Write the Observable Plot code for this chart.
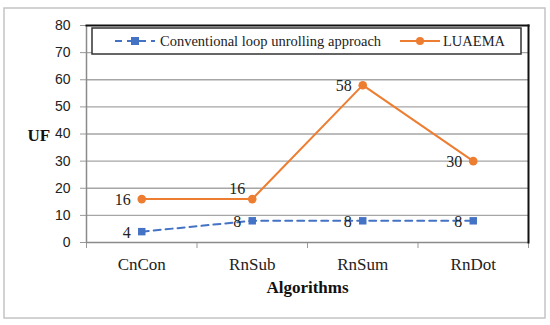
<!DOCTYPE html>
<html><head><meta charset="utf-8">
<script src="https://cdn.jsdelivr.net/npm/d3@7"></script>
<script src="https://cdn.jsdelivr.net/npm/@observablehq/plot@0.6"></script>
<style>
body{margin:0;background:#fff;}
#wrap{position:relative;width:550px;height:325px;}
</style></head><body>
<div id="wrap"></div>
<script>
const categories = ["CnCon","RnSub","RnSum","RnDot"];
const conventional = [4,8,8,8];
const luaema = [16,16,58,30];
const yTicks = [0,10,20,30,40,50,60,70,80];
const seriesNames = ["Conventional loop unrolling approach","LUAEMA"];
const blue = "#4472C4", orange = "#ED7D31";

const conv = categories.map((c,i)=>({x:i+0.5, y:conventional[i], c}));
const lua = categories.map((c,i)=>({x:i+0.5, y:luaema[i], c}));
const serif = "Liberation Serif";

const chart = Plot.plot({
  width:550, height:325,
  marginLeft:86, marginRight:22, marginTop:25, marginBottom:83,
  style:{fontFamily:"Liberation Sans", fontSize:"13px", color:"#222", background:"transparent"},
  x:{domain:[0,4]},
  y:{domain:[0,80]},
  marks:[
    Plot.ruleY(yTicks.filter(d=>d>0 && d<80), {stroke:"#a6a6a6", strokeWidth:1.3}),
    Plot.axisY({ticks:yTicks, tickSize:6, tickPadding:10, label:null, stroke:"#999", fontSize:14}),
    Plot.axisX({ticks:[0,1,2,3,4], tickSize:6, tickFormat:()=>"", label:null, stroke:"#999"}),
    Plot.axisX({ticks:categories.map((c,i)=>i+0.5), tickSize:0, tickPadding:15, tickFormat:d=>categories[Math.floor(d)], label:null, fontFamily:serif, fontSize:17}),
    Plot.ruleX([0], {stroke:"#8a8a8a", strokeWidth:1.5}),
    Plot.ruleY([0], {stroke:"#8a8a8a", strokeWidth:1.5}),
    Plot.frame({anchor:"top", stroke:"#111", strokeWidth:2}),
    Plot.frame({anchor:"right", stroke:"#111", strokeWidth:2}),
    Plot.line(conv, {x:"x", y:"y", stroke:blue, strokeWidth:2, strokeDasharray:"7,5"}),
    Plot.dot(conv, {x:"x", y:"y", symbol:"square", r:4.2, fill:blue, stroke:"none"}),
    Plot.line(lua, {x:"x", y:"y", stroke:orange, strokeWidth:2}),
    Plot.dot(lua, {x:"x", y:"y", r:4.3, fill:orange, stroke:"none"}),
    Plot.text(conv, {x:"x", y:"y", text:d=>String(d.y), textAnchor:"end", dx:-11, dy:1, fontFamily:serif, fontSize:16, fill:"#222"}),
    Plot.text(lua, {x:"x", y:"y", text:d=>String(d.y), textAnchor:"end", dx:-11, dy:1, fontFamily:serif, fontSize:16, fill:"#222",
      filter:(d,i)=>i!==1}),
    Plot.text(lua, {x:"x", y:"y", text:d=>String(d.y), textAnchor:"end", dx:-7, dy:-10, fontFamily:serif, fontSize:16, fill:"#222",
      filter:(d,i)=>i===1}),
    Plot.text(["UF"], {frameAnchor:"left", dx:-59, dy:2, text:d=>d, fontFamily:serif, fontSize:17, fontWeight:"bold", fill:"#111"}),
    Plot.text(["Algorithms"], {frameAnchor:"bottom", dy:50, text:d=>d, fontFamily:serif, fontSize:17, fontWeight:"bold", fill:"#111"})
  ]
});
const wrap = document.getElementById("wrap");
wrap.appendChild(chart);
const svg = d3.select(chart);
svg.insert("rect",":first-child").attr("x",4).attr("y",8).attr("width",541).attr("height",310)
  .attr("fill","none").attr("stroke","#c4c4c4").attr("stroke-width",1.5);

// legend box inside the plot area
const lg = svg.append("g").attr("transform","translate(92,28)");
lg.append("rect").attr("width",429).attr("height",26).attr("fill","#fff").attr("stroke","#333").attr("stroke-width",1.5);
const items = [
  {name:seriesNames[0], color:blue, dash:"7,5", sym:"square", x0:23, tx:68},
  {name:seriesNames[1], color:orange, dash:null, sym:"circle", x0:308, tx:351}
];
items.forEach(it=>{
  const g = lg.append("g");
  g.append("line").attr("x1",it.x0).attr("x2",it.x0+40).attr("y1",13).attr("y2",13)
    .attr("stroke",it.color).attr("stroke-width",2).attr("stroke-dasharray",it.dash);
  if (it.sym==="square") g.append("rect").attr("x",it.x0+16).attr("y",9).attr("width",8).attr("height",8).attr("fill",it.color);
  else g.append("circle").attr("cx",it.x0+20).attr("cy",13).attr("r",4).attr("fill",it.color);
  g.append("text").attr("x",it.tx).attr("y",18).text(it.name)
    .attr("text-anchor","start")
    .attr("font-family",serif).attr("font-size",14.5).attr("fill","#222");
});
</script></body></html>
